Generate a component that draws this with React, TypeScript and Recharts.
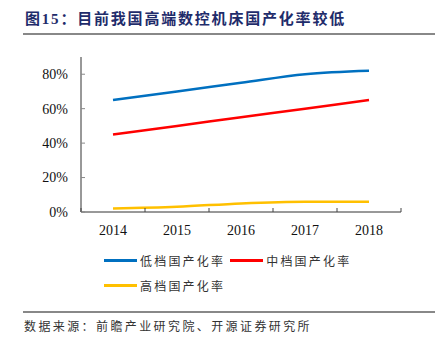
import { LineChart, Line, XAxis, YAxis } from "recharts";

const years = ["2014", "2015", "2016", "2017", "2018"];
const lowRate = [0.65, 0.7, 0.75, 0.8, 0.82];
const midRate = [0.45, 0.5, 0.55, 0.6, 0.65];
const highRate = [0.02, 0.03, 0.05, 0.06, 0.06];
const yTicks = [0, 0.2, 0.4, 0.6, 0.8];

const series = [
  { key: "low", name: "低档国产化率", color: "#0070c0" },
  { key: "mid", name: "中档国产化率", color: "#ff0000" },
  { key: "high", name: "高档国产化率", color: "#ffc000" },
];

const data = years.map((year, i) => ({
  year,
  low: lowRate[i],
  mid: midRate[i],
  high: highRate[i],
}));

const serif = '"Liberation Serif", "Times New Roman", serif';
const cjk = '"Noto Sans CJK SC", sans-serif';
const HALF_BAND = 32;

function XTick(props: any) {
  const { x, y, payload, index, visibleTicksCount } = props;
  const last = index === visibleTicksCount - 1;
  return (
    <g>
      <line x1={x - HALF_BAND} y1={y} x2={x - HALF_BAND} y2={y - 4} stroke="#444" />
      {last && <line x1={x + HALF_BAND} y1={y} x2={x + HALF_BAND} y2={y - 4} stroke="#444" />}
      <text x={x} y={y + 18} dy="0.35em" textAnchor="middle" fill="#111" fontSize={14} fontFamily={serif}>
        {payload.value}
      </text>
    </g>
  );
}

function YTick(props: any) {
  const { x, y, payload } = props;
  return (
    <g>
      <line x1={x} y1={y} x2={x + 4} y2={y} stroke="#888" />
      <text x={x - 13} y={y} dy="0.35em" textAnchor="end" fill="#111" fontSize={14} fontFamily={serif}>
        {Math.round(payload.value * 100) + "%"}
      </text>
    </g>
  );
}

function LegendBox() {
  return (
    <div
      style={{
        position: "absolute",
        left: 104,
        top: 249,
        width: 270,
        display: "flex",
        flexWrap: "wrap",
        rowGap: 3,
      }}
    >
      {series.map((s) => (
        <div key={s.key} style={{ display: "flex", alignItems: "center", height: 22, marginRight: 5 }}>
          <span style={{ display: "inline-block", width: 33, height: 3, background: s.color, marginRight: 3 }} />
          <span style={{ fontFamily: cjk, fontSize: 12, letterSpacing: 2.2, color: "#333" }}>{s.name}</span>
        </div>
      ))}
    </div>
  );
}

export default function App() {
  return (
    <div style={{ position: "absolute", left: 0, top: 0, width: 442, height: 344, background: "#fff" }}>
      <div
        style={{
          position: "absolute",
          left: 25,
          top: 7,
          fontFamily: '"Liberation Serif", "Noto Sans CJK SC", serif',
          fontWeight: 700,
          fontSize: 15,
          letterSpacing: 1.8,
          color: "#1f2c6b",
          whiteSpace: "nowrap",
        }}
      >
        图15：目前我国高端数控机床国产化率较低
      </div>
      <div style={{ position: "absolute", left: 23, top: 33, width: 412, height: 2, background: "#888" }} />

      <div style={{ position: "absolute", left: 0, top: 0 }}>
        <LineChart width={442} height={344} data={data} margin={{ top: 57, right: 41, bottom: 102, left: 21 }}>
          <XAxis
            dataKey="year"
            height={30}
            padding={{ left: HALF_BAND, right: HALF_BAND }}
            axisLine={{ stroke: "#333" }}
            tickLine={false}
            tickSize={0}
            tickMargin={0}
            interval={0}
            tick={<XTick />}
          />
          <YAxis
            width={60}
            domain={[0, 0.9]}
            ticks={yTicks}
            axisLine={{ stroke: "#333" }}
            tickLine={false}
            tickSize={0}
            tickMargin={0}
            tick={<YTick />}
          />
          {series.map((s) => (
            <Line
              key={s.key}
              type="monotone"
              dataKey={s.key}
              name={s.name}
              stroke={s.color}
              strokeWidth={2.5}
              dot={false}
              isAnimationActive={false}
            />
          ))}
        </LineChart>
      </div>

      <LegendBox />

      <div style={{ position: "absolute", left: 23, top: 311, width: 412, height: 2, background: "#888" }} />
      <div
        style={{
          position: "absolute",
          left: 24,
          top: 317,
          fontFamily: cjk,
          fontSize: 12,
          letterSpacing: 2.4,
          color: "#333",
          whiteSpace: "nowrap",
        }}
      >
        数据来源：前瞻产业研究院、开源证券研究所
      </div>
    </div>
  );
}
